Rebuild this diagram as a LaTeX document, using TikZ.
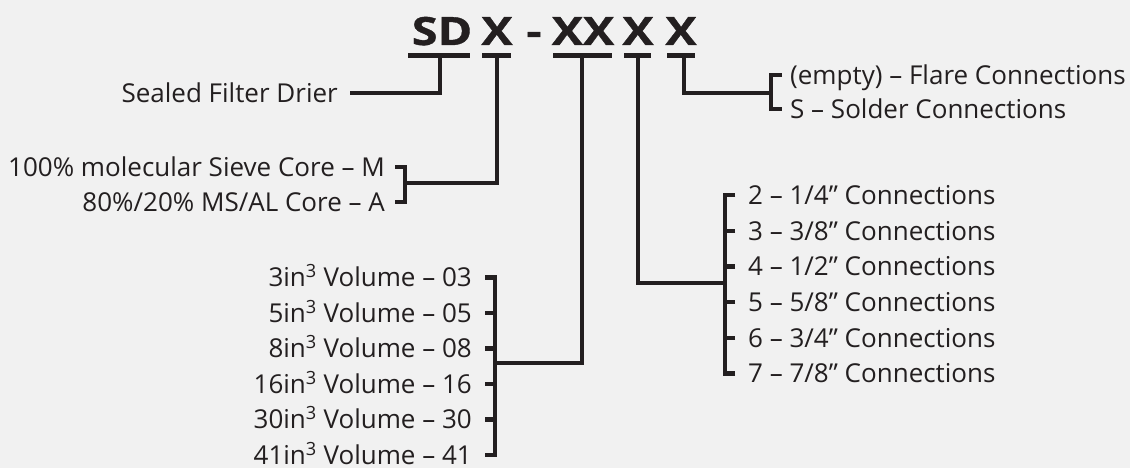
\documentclass[tikz,border=0pt]{standalone}
\usepackage{fontspec}
\setmainfont{Open Sans}
\newfontfamily\ttlfont[FakeStretch=1.2,FakeBold=1]{Open Sans}
\definecolor{ink}{HTML}{231F20}
\definecolor{bg}{HTML}{F1F1F1}
\begin{document}
\begin{tikzpicture}[x=1pt,y=-1pt,
  lbl/.style={font=\fontsize{26}{30}\selectfont, text=ink, inner sep=0pt},
  ttl/.style={font=\ttlfont\fontsize{39}{45}\selectfont\bfseries, text=ink, inner sep=0pt, anchor=base},
  wire/.style={draw=ink, line width=4.2pt, line join=miter},
  bar/.style={draw=ink, line width=5pt}]
\fill[bg] (0,0) rectangle (1130,468);
\useasboundingbox (0,0) rectangle (1130,468);

% title
\node[ttl] (sd) at (442,45) {SD};
\node[ttl] (x1) at (497,45) {X};
\node[ttl] (dash) at (534,45) {-};
\node[ttl] (xx) at (583,45) {XX};
\node[ttl] (x2) at (638,45) {X};
\node[ttl] (x3) at (681,45) {X};

% underlines
\coordinate (sdA) at (408,56); \coordinate (sdB) at (470,56);
\coordinate (x1A) at (482,56); \coordinate (x1B) at (511,56);
\coordinate (xxA) at (553,56); \coordinate (xxB) at (612,56);
\coordinate (x2A) at (624,56); \coordinate (x2B) at (651,56);
\coordinate (x3A) at (667,56); \coordinate (x3B) at (695,56);
\draw[bar] (sdA) -- (sdB);
\draw[bar] (x1A) -- (x1B);
\draw[bar] (xxA) -- (xxB);
\draw[bar] (x2A) -- (x2B);
\draw[bar] (x3A) -- (x3B);

% drops
\coordinate (sdD) at (440,56);
\coordinate (x1D) at (497,56);
\coordinate (xxD) at (582,56);
\coordinate (x2D) at (638,56);
\coordinate (x3D) at (684,56);

% Sealed filter drier
\coordinate (sfdT) at (350,93);
\node[lbl, anchor=base east] (sfd) at ([xshift=-12pt,yshift=-9.3pt]sfdT) {Sealed Filter Drier};
\draw[wire] (sdD) |- (sfdT);

% core
\coordinate (tM) at (395,167);
\coordinate (tA) at (395,202);
\coordinate (bM) at (405,167);
\coordinate (bA) at (405,202);
\coordinate (jC) at (405,183);
\node[lbl, anchor=base east] (cM) at ([xshift=-10pt,yshift=-9.3pt]tM) {100\% molecular Sieve Core – M};
\node[lbl, anchor=base east] (cA) at ([xshift=-10pt,yshift=-9.3pt]tA) {80\%/20\% MS/AL Core – A};
\draw[wire] (tM) -- (bM) -- (bA) -- (tA);
\draw[wire] (x1D) |- (jC);

% volume
\foreach \i/\t in {0/{3in\textsuperscript{3} Volume – 03},1/{5in\textsuperscript{3} Volume – 05},2/{8in\textsuperscript{3} Volume – 08},3/{16in\textsuperscript{3} Volume – 16},4/{30in\textsuperscript{3} Volume – 30},5/{41in\textsuperscript{3} Volume – 41}}{
  \coordinate (tV\i) at (485,{277.5+35.5*\i});
  \coordinate (bV\i) at (495,{277.5+35.5*\i});
  \node[lbl, anchor=base east] (v\i) at ([xshift=-13pt,yshift=-9.3pt]tV\i) {\t};
  \draw[wire] (tV\i) -- (bV\i);
}
\draw[wire] (tV0) -- (bV0) -- (bV5) -- (tV5);
\coordinate (jV) at (495,363);
\draw[wire] (xxD) |- (jV);

% connections size
\foreach \i/\t in {0/{2 – 1/4” Connections},1/{3 – 3/8” Connections},2/{4 – 1/2” Connections},3/{5 – 5/8” Connections},4/{6 – 3/4” Connections},5/{7 – 7/8” Connections}}{
  \coordinate (tS\i) at (735,{195+35.7*\i});
  \coordinate (bS\i) at (725,{195+35.7*\i});
  \node[lbl, anchor=base west] (s\i) at ([xshift=13pt,yshift=-9.3pt]tS\i) {\t};
  \draw[wire] (tS\i) -- (bS\i);
}
\draw[wire] (tS0) -- (bS0) -- (bS5) -- (tS5);
\coordinate (jS) at (725,283);
\draw[wire] (x2D) |- (jS);

% connection type
\coordinate (tF) at (782,75);
\coordinate (tSo) at (782,109);
\coordinate (bF) at (771,75);
\coordinate (bSo) at (771,109);
\coordinate (jF) at (771,93);
\node[lbl, anchor=base west] (fl) at ([xshift=8pt,yshift=-9.3pt]tF) {(empty) – Flare Connections};
\node[lbl, anchor=base west] (so) at ([xshift=8pt,yshift=-9.3pt]tSo) {S – Solder Connections};
\draw[wire] (tF) -- (bF) -- (bSo) -- (tSo);
\draw[wire] (x3D) |- (jF);
\end{tikzpicture}
\end{document}
